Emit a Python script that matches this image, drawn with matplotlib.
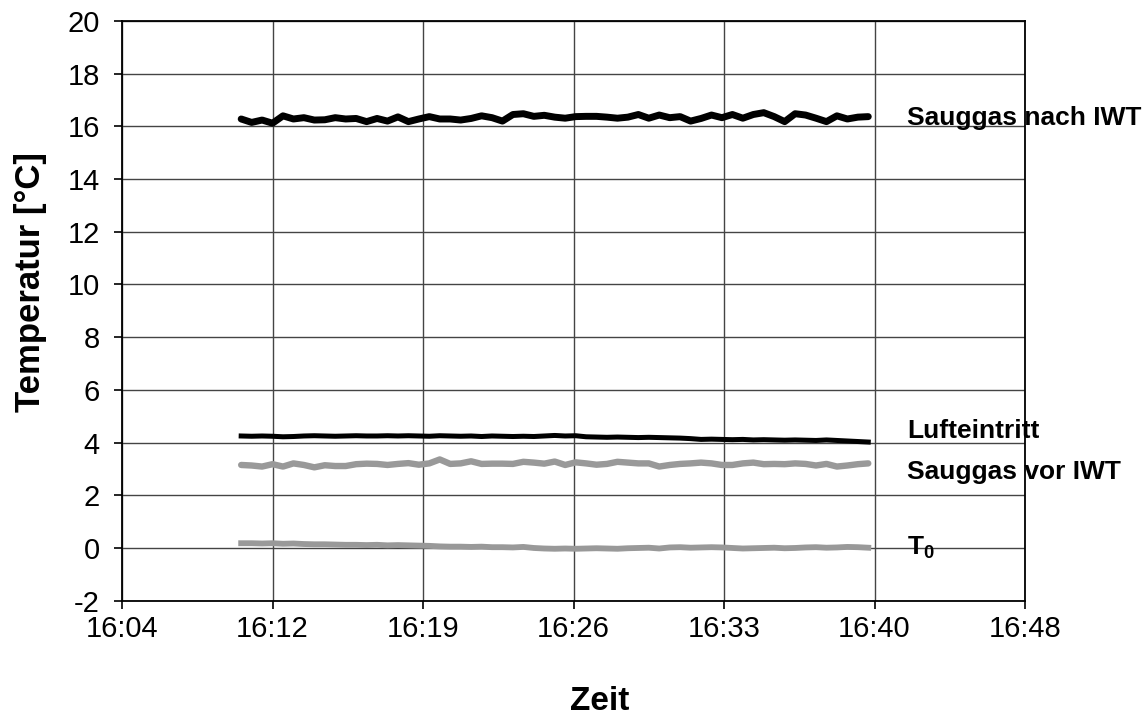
import matplotlib
matplotlib.use("Agg")
import matplotlib.pyplot as plt

plt.rcParams['font.family'] = ['Liberation Sans', 'DejaVu Sans']
plt.rcParams['mathtext.fontset'] = 'custom'
plt.rcParams['mathtext.rm'] = 'Liberation Sans'
plt.rcParams['mathtext.bf'] = 'Liberation Sans:bold'

# Messzeitpunkte (alle 30 s)
zeiten = [
    "16:10:30", "16:11:00", "16:11:30", "16:12:00", "16:12:30", "16:13:00", "16:13:30", "16:14:00",
    "16:14:30", "16:15:00", "16:15:30", "16:16:00", "16:16:30", "16:17:00", "16:17:30", "16:18:00",
    "16:18:30", "16:19:00", "16:19:30", "16:20:00", "16:20:30", "16:21:00", "16:21:30", "16:22:00",
    "16:22:30", "16:23:00", "16:23:30", "16:24:00", "16:24:30", "16:25:00", "16:25:30", "16:26:00",
    "16:26:30", "16:27:00", "16:27:30", "16:28:00", "16:28:30", "16:29:00", "16:29:30", "16:30:00",
    "16:30:30", "16:31:00", "16:31:30", "16:32:00", "16:32:30", "16:33:00", "16:33:30", "16:34:00",
    "16:34:30", "16:35:00", "16:35:30", "16:36:00", "16:36:30", "16:37:00", "16:37:30", "16:38:00",
    "16:38:30", "16:39:00", "16:39:30", "16:40:00", "16:40:30",
]

sauggas_nach_iwt = [
    16.28, 16.15, 16.24, 16.12, 16.40, 16.28, 16.33, 16.24, 16.25, 16.33,
    16.28, 16.30, 16.18, 16.30, 16.20, 16.36, 16.18, 16.28, 16.37, 16.28,
    16.28, 16.24, 16.30, 16.40, 16.33, 16.20, 16.45, 16.48, 16.38, 16.42,
    16.35, 16.31, 16.37, 16.38, 16.38, 16.35, 16.31, 16.35, 16.45, 16.31,
    16.43, 16.33, 16.37, 16.20, 16.30, 16.43, 16.33, 16.45, 16.31, 16.45,
    16.52, 16.37, 16.18, 16.48, 16.43, 16.31, 16.18, 16.40, 16.28, 16.35,
    16.37,
]

lufteintritt = [
    4.25, 4.24, 4.25, 4.24, 4.22, 4.23, 4.25, 4.26, 4.25, 4.24,
    4.25, 4.26, 4.25, 4.25, 4.26, 4.25, 4.26, 4.25, 4.24, 4.26,
    4.25, 4.24, 4.25, 4.23, 4.25, 4.24, 4.23, 4.24, 4.23, 4.25,
    4.27, 4.25, 4.26, 4.22, 4.21, 4.20, 4.21, 4.20, 4.19, 4.20,
    4.19, 4.18, 4.17, 4.15, 4.12, 4.13, 4.12, 4.11, 4.12, 4.10,
    4.11, 4.10, 4.09, 4.10, 4.09, 4.08, 4.10, 4.08, 4.06, 4.04,
    4.02,
]

sauggas_vor_iwt = [
    3.15, 3.13, 3.09, 3.18, 3.09, 3.21, 3.15, 3.06, 3.14, 3.11,
    3.11, 3.18, 3.20, 3.19, 3.15, 3.19, 3.22, 3.16, 3.21, 3.36,
    3.19, 3.21, 3.29, 3.19, 3.20, 3.20, 3.19, 3.27, 3.24, 3.20,
    3.28, 3.15, 3.25, 3.21, 3.16, 3.19, 3.27, 3.24, 3.21, 3.21,
    3.09, 3.15, 3.19, 3.21, 3.24, 3.21, 3.15, 3.15, 3.21, 3.24,
    3.18, 3.19, 3.18, 3.21, 3.19, 3.13, 3.19, 3.09, 3.13, 3.18,
    3.21,
]

t0 = [
    0.18, 0.18, 0.17, 0.18, 0.16, 0.17, 0.15, 0.14, 0.14, 0.13,
    0.12, 0.12, 0.11, 0.12, 0.10, 0.11, 0.10, 0.09, 0.08, 0.06,
    0.05, 0.05, 0.04, 0.05, 0.03, 0.03, 0.02, 0.04, 0.00, -0.02,
    -0.03, -0.02, -0.03, -0.02, -0.01, -0.02, -0.03, -0.01, 0.00, 0.01,
    -0.02, 0.02, 0.03, 0.01, 0.02, 0.03, 0.02, 0.00, -0.02, -0.01,
    0.00, 0.01, -0.01, 0.00, 0.02, 0.03, 0.01, 0.02, 0.04, 0.03,
    0.01,
]

xtick_zeiten = ["16:04:48", "16:12:00", "16:19:12", "16:26:24", "16:33:36", "16:40:48", "16:48:00"]
xtick_labels = ["16:04", "16:12", "16:19", "16:26", "16:33", "16:40", "16:48"]
ytick_values = [-2, 0, 2, 4, 6, 8, 10, 12, 14, 16, 18, 20]

# Beschriftungen rechts: (Text, Zeitpunkt, Temperatur)
labels = [
    ("Sauggas nach IWT", "16:42:22", 16.3),
    ("Lufteintritt", "16:42:22", 4.45),
    ("Sauggas vor IWT", "16:42:22", 2.9),
    (r"$\mathbf{T_0}$", "16:42:22", 0.0),
]


def minuten(s):
    h, m, sec = (int(v) for v in s.split(":"))
    return h * 60 + m + sec / 60.0


x = [minuten(z) for z in zeiten]

fig = plt.figure(figsize=(11.48, 7.18), dpi=100)
ax = fig.add_axes([0.1063, 0.1634, 0.7866, 0.8074])

grau = "#999999"
rund = dict(solid_capstyle="round", solid_joinstyle="round")
ax.plot(x, sauggas_nach_iwt, color="black", lw=5.0, zorder=4, **rund)
ax.plot(x, lufteintritt, color="black", lw=3.6, zorder=4)
ax.plot(x, sauggas_vor_iwt, color=grau, lw=4.6, zorder=3, **rund)
ax.plot(x, t0, color=grau, lw=4.2, zorder=3)

xt = [minuten(z) for z in xtick_zeiten]
ax.set_xlim(xt[0], xt[-1])
ax.set_ylim(-2, 20)
ax.set_xticks(xt)
ax.set_xticklabels(xtick_labels)
ax.set_yticks(ytick_values)
ax.set_yticklabels([str(v) for v in ytick_values])

ax.grid(True, color="#444444", lw=1.0)
ax.set_axisbelow(True)
for sp in ax.spines.values():
    sp.set_color("black")
    sp.set_linewidth(1.3)

ax.tick_params(axis="both", direction="out", length=6, width=1.2, labelsize=21)
ax.tick_params(axis="y", pad=10)
ax.tick_params(axis="x", pad=4)

ax.set_xlabel("Zeit", fontsize=24, fontweight="bold")
ax.xaxis.set_label_coords(0.529, -0.148)
ax.set_ylabel("Temperatur [°C]", fontsize=25, fontweight="bold")
ax.yaxis.set_label_coords(-0.083, 0.55)

for text, t, val in labels:
    ax.text(minuten(t), val, text, fontsize=19, fontweight="bold", va="center", ha="left",
            clip_on=False, zorder=5)

fig.savefig("out.png", dpi=100)
